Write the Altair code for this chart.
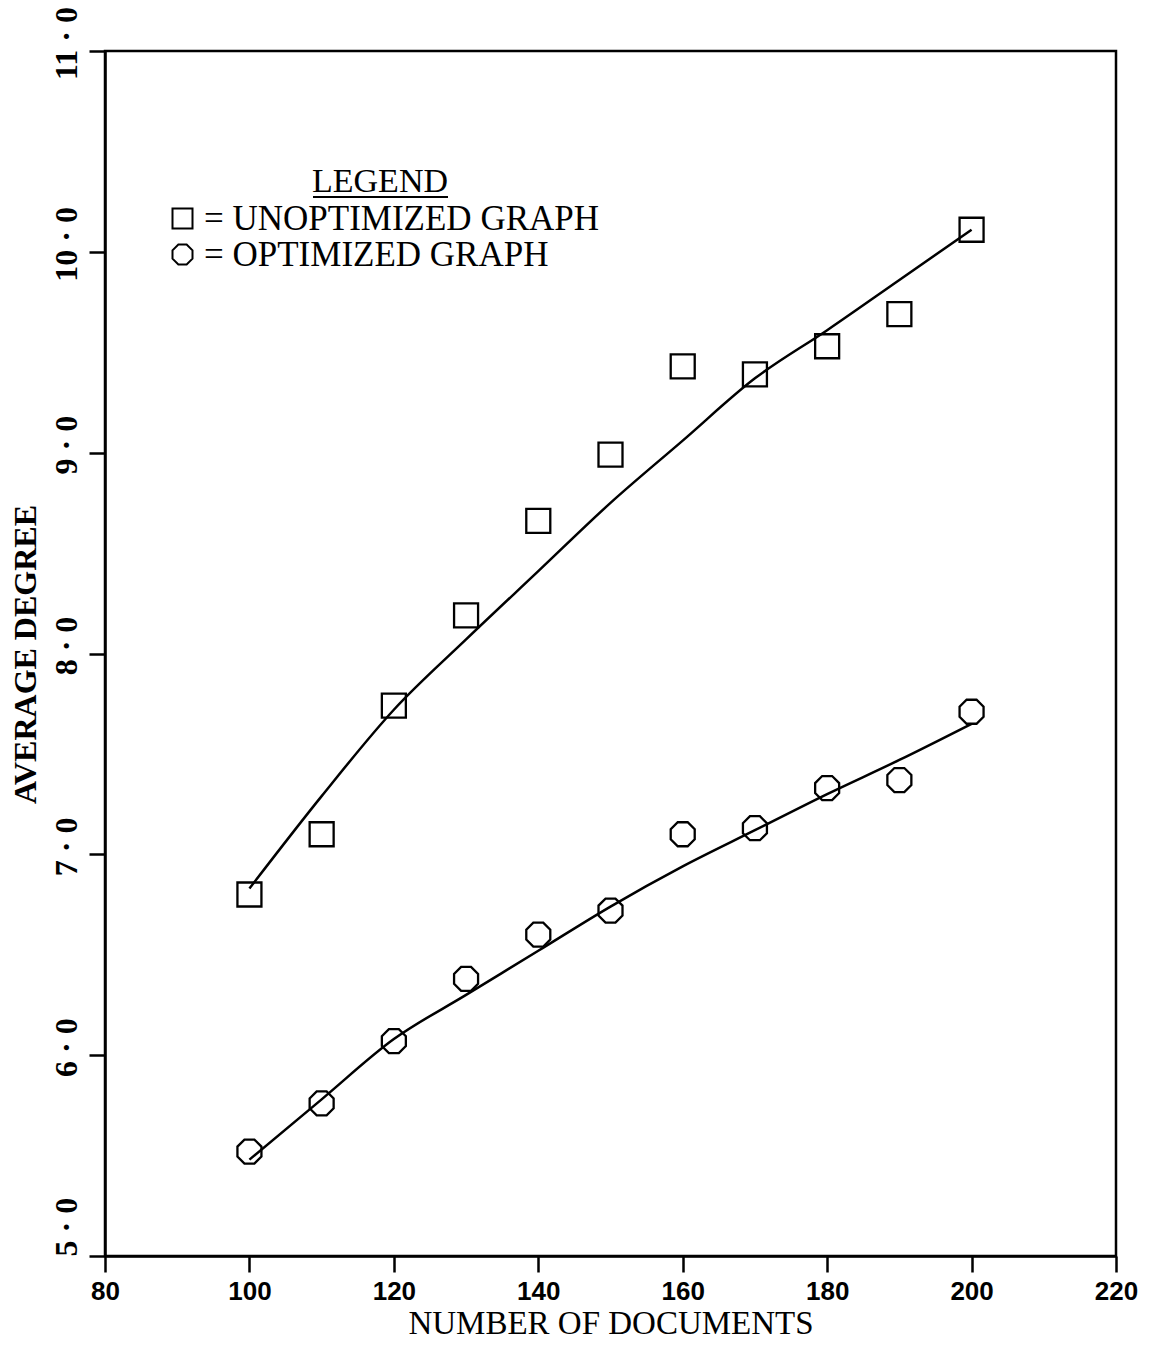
import altair as alt
import pandas as pd

# ---- data ----
docs = [100, 110, 120, 130, 140, 150, 160, 170, 180, 190, 200]
unopt = [6.80, 7.10, 7.74, 8.19, 8.66, 8.99, 9.43, 9.39, 9.53, 9.69, 10.11]
opt = [5.52, 5.76, 6.07, 6.38, 6.60, 6.72, 7.10, 7.13, 7.33, 7.37, 7.71]
# fitted curves
unopt_fit = [6.83, 7.29, 7.72, 8.07, 8.41, 8.75, 9.06, 9.37, 9.61, 9.86, 10.11]
opt_fit = [5.48, 5.78, 6.08, 6.30, 6.52, 6.74, 6.94, 7.12, 7.30, 7.47, 7.65]

series = ["UNOPTIMIZED  GRAPH", "OPTIMIZED  GRAPH"]
legend_title = ["LEGEND"]
x_ticks = [80, 100, 120, 140, 160, 180, 200, 220]
y_ticks = [5, 6, 7, 8, 9, 10, 11]

OCTAGON = "M-0.414,-1L0.414,-1L1,-0.414L1,0.414L0.414,1L-0.414,1L-1,0.414L-1,-0.414Z"

pts = pd.DataFrame(
    [{"docs": d, "deg": v, "series": series[0]} for d, v in zip(docs, unopt)]
    + [{"docs": d, "deg": v, "series": series[1]} for d, v in zip(docs, opt)]
)
fits = pd.DataFrame(
    [{"docs": d, "deg": v, "series": series[0]} for d, v in zip(docs, unopt_fit)]
    + [{"docs": d, "deg": v, "series": series[1]} for d, v in zip(docs, opt_fit)]
)

SERIF = "Liberation Serif"
SANS = "Liberation Sans"

xscale = alt.Scale(domain=[80, 220], nice=False, zero=False)
yscale = alt.Scale(domain=[5, 11], nice=False, zero=False)

xaxis = alt.Axis(
    values=x_ticks, title="NUMBER OF DOCUMENTS", grid=False,
    labelFont=SANS, labelFontSize=26, labelFontWeight="bold", labelColor="black",
    labelPadding=6, labelFlush=False,
    titleFont=SERIF, titleFontSize=33, titleFontWeight="normal", titleColor="black",
    titleY=67, titleBaseline="middle",
    domainColor="black", domainWidth=2.5, tickColor="black", tickWidth=2.5, tickSize=16,
)
yaxis = alt.Axis(
    values=y_ticks, title="AVERAGE DEGREE", grid=False,
    labelExpr="replace(format(datum.value, '.1f'), '.', ' · ')",
    labelFont=SERIF, labelFontSize=32, labelFontWeight="bold", labelColor="black",
    labelAngle=270,
    labelAlign=alt.condition("datum.value == 5", alt.value("left"), alt.value("center")),
    labelOffset=alt.condition("datum.value == 5", alt.value(0), alt.value(-8)),
    labelBaseline="bottom", labelPadding=6,
    labelFlush=False,
    titleFont=SERIF, titleFontSize=32, titleFontWeight="bold", titleColor="black",
    titleAngle=270, titleX=-80, titleY=603, titleBaseline="middle", titleAlign="center",
    domainColor="black", domainWidth=2.5, tickColor="black", tickWidth=2.5, tickSize=16,
)

lines = alt.Chart(fits).mark_line(color="black", strokeWidth=2.5, interpolate="monotone").encode(
    x=alt.X("docs:Q", scale=xscale, axis=xaxis),
    y=alt.Y("deg:Q", scale=yscale, axis=yaxis),
    detail="series:N",
)

points = alt.Chart(pts).mark_point(filled=False, color="black", strokeWidth=2.3, size=576, opacity=1).encode(
    x=alt.X("docs:Q", scale=xscale),
    y=alt.Y("deg:Q", scale=yscale),
    shape=alt.Shape(
        "series:N",
        scale=alt.Scale(domain=series, range=["square", OCTAGON]),
        legend=alt.Legend(
            orient="none", legendX=60, legendY=150, title=None,
            labelFont=SERIF, labelFontSize=35, labelColor="black",
            labelExpr="'= ' + datum.label", labelOffset=4, labelLimit=700,
            symbolSize=400, symbolStrokeWidth=2, symbolStrokeColor="black",
            symbolFillColor="transparent", symbolOpacity=1,
            rowPadding=0, padding=0,
        ),
    ),
)

title_txt = alt.Chart(pd.DataFrame({"t": legend_title})).mark_text(
    font=SERIF, fontSize=34, color="black", align="center", baseline="middle"
).encode(text="t:N", x=alt.value(275), y=alt.value(131))

underline = alt.Chart(pd.DataFrame({"t": legend_title})).mark_rule(color="black", strokeWidth=2).encode(
    x=alt.value(208), x2=alt.value(343), y=alt.value(146),
)

chart = (
    alt.layer(lines, points, title_txt, underline)
    .properties(
        width=1011, height=1205,
        autosize=alt.AutoSizeParams(type="none"),
        padding={"left": 97, "top": 43, "right": 24, "bottom": 84},
        background="white",
    )
    .configure_view(stroke="black", strokeWidth=2.5)
)

chart.save("out.html", embed_options={"renderer": "svg", "actions": False})
